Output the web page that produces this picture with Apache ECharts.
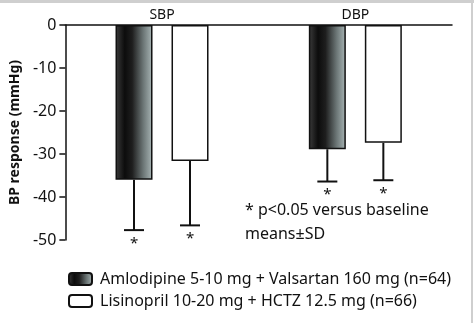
<!DOCTYPE html>
<html><head><meta charset="utf-8">
<script src="https://cdn.jsdelivr.net/npm/echarts@6/dist/echarts.min.js"></script>
<style>html,body{margin:0;padding:0;background:#fff}#c{width:474px;height:323px}</style>
</head><body><div id="c"></div>
<script>
const categories = ['SBP', 'DBP'];
const seriesNames = ['Amlodipine 5-10 mg + Valsartan 160 mg (n=64)', 'Lisinopril 10-20 mg + HCTZ 12.5 mg (n=66)'];
const amlodipineMean = [-36.0, -28.9];
const amlodipineSD = [11.7, 7.5];
const lisinoprilMean = [-31.6, -27.4];
const lisinoprilSD = [15.0, 8.7];
const yTicks = [0, -10, -20, -30, -40, -50];
const footnotes = ['* p<0.05 versus baseline', 'means\u00b1SD'];

const FONT = 'Noto Sans';
const BAR_W = 37, BAR_GAP = 19;
const grad = {type:'linear', x:0, y:0, x2:1, y2:0, colorStops:[
  {offset:0, color:'#3c3c3c'}, {offset:0.25, color:'#0c0c0c'}, {offset:0.45, color:'#1e1e1e'},
  {offset:0.75, color:'#6c7676'}, {offset:1, color:'#a9b6b6'}]};

function errSeries(means, sds, sIdx) {
  const off = (sIdx === 0 ? -1 : 1) * (BAR_W + BAR_GAP) / 2;
  return {
    type:'custom', silent:true, z:1,
    data: means.map((m, i) => [i, m, m - sds[i]]),
    renderItem(params, api) {
      const top = api.coord([api.value(0), api.value(1)]);
      const bot = api.coord([api.value(0), api.value(2)]);
      const x = top[0] + off;
      return {type:'group', children:[
        {type:'line', shape:{x1:x, y1:top[1], x2:x, y2:bot[1]}, style:{stroke:'#111', lineWidth:2}},
        {type:'line', shape:{x1:x-10, y1:bot[1], x2:x+10, y2:bot[1]}, style:{stroke:'#111', lineWidth:2}},
        {type:'text', x:x, y:bot[1]+6, style:{text:'*', fontSize:15, fontFamily:FONT, fill:'#111', align:'center', verticalAlign:'top'}}
      ]};
    }
  };
}

const chart = echarts.init(document.getElementById('c'));
chart.setOption({
  animation:false,
  backgroundColor:'#fff',
  grid:{left:64, top:25, right:22, height:215},
  xAxis:{type:'category', data:categories, position:'top',
    axisLine:{lineStyle:{color:'#111', width:1.5}},
    axisTick:{length:7, lineStyle:{color:'#111', width:1.5}, interval:(i)=>i!==0},
    axisLabel:{color:'#111', fontSize:14, fontFamily:FONT, margin:3}},
  yAxis:{type:'value', min:-50, max:0, interval:10,
    name:'BP response (mmHg)', nameLocation:'middle', nameGap:36,
    nameTextStyle:{fontSize:14, fontWeight:'bold', fontFamily:FONT, color:'#111'},
    axisLine:{show:true, lineStyle:{color:'#111', width:1.5}},
    axisTick:{show:true, length:6, lineStyle:{color:'#111', width:1.5}},
    splitLine:{show:false},
    axisLabel:{color:'#111', fontSize:16, fontFamily:FONT, margin:9,
      customValues: yTicks}},
  legend:{orient:'vertical', left:68, top:271, padding:0, itemWidth:23, itemHeight:12, itemGap:6,
    textStyle:{fontSize:16, fontFamily:FONT, color:'#111', padding:[0,0,0,3]},
    data:seriesNames},
  series:[
    {name:seriesNames[0], type:'bar', data:amlodipineMean, barWidth:BAR_W, barGap:(BAR_GAP/BAR_W*100)+'%', z:2,
      itemStyle:{color:grad, borderColor:'#111', borderWidth:1.5}},
    {name:seriesNames[1], type:'bar', data:lisinoprilMean, barWidth:BAR_W, z:2,
      itemStyle:{color:'#fff', borderColor:'#111', borderWidth:1.5}},
    errSeries(amlodipineMean, amlodipineSD, 0),
    errSeries(lisinoprilMean, lisinoprilSD, 1)
  ],
  graphic:[
    {type:'text', left:245, top:202, style:{text:footnotes[0], fontSize:16, fontFamily:FONT, fill:'#111'}},
    {type:'text', left:245, top:226, style:{text:footnotes[1], fontSize:16, fontFamily:FONT, fill:'#111'}},
    {type:'rect', left:0, top:0, shape:{width:474, height:3}, style:{fill:'#cfcfcf'}},
    {type:'rect', left:471, top:0, shape:{width:2, height:323}, style:{fill:'#cfcfcf'}}
  ]
});
</script></body></html>
